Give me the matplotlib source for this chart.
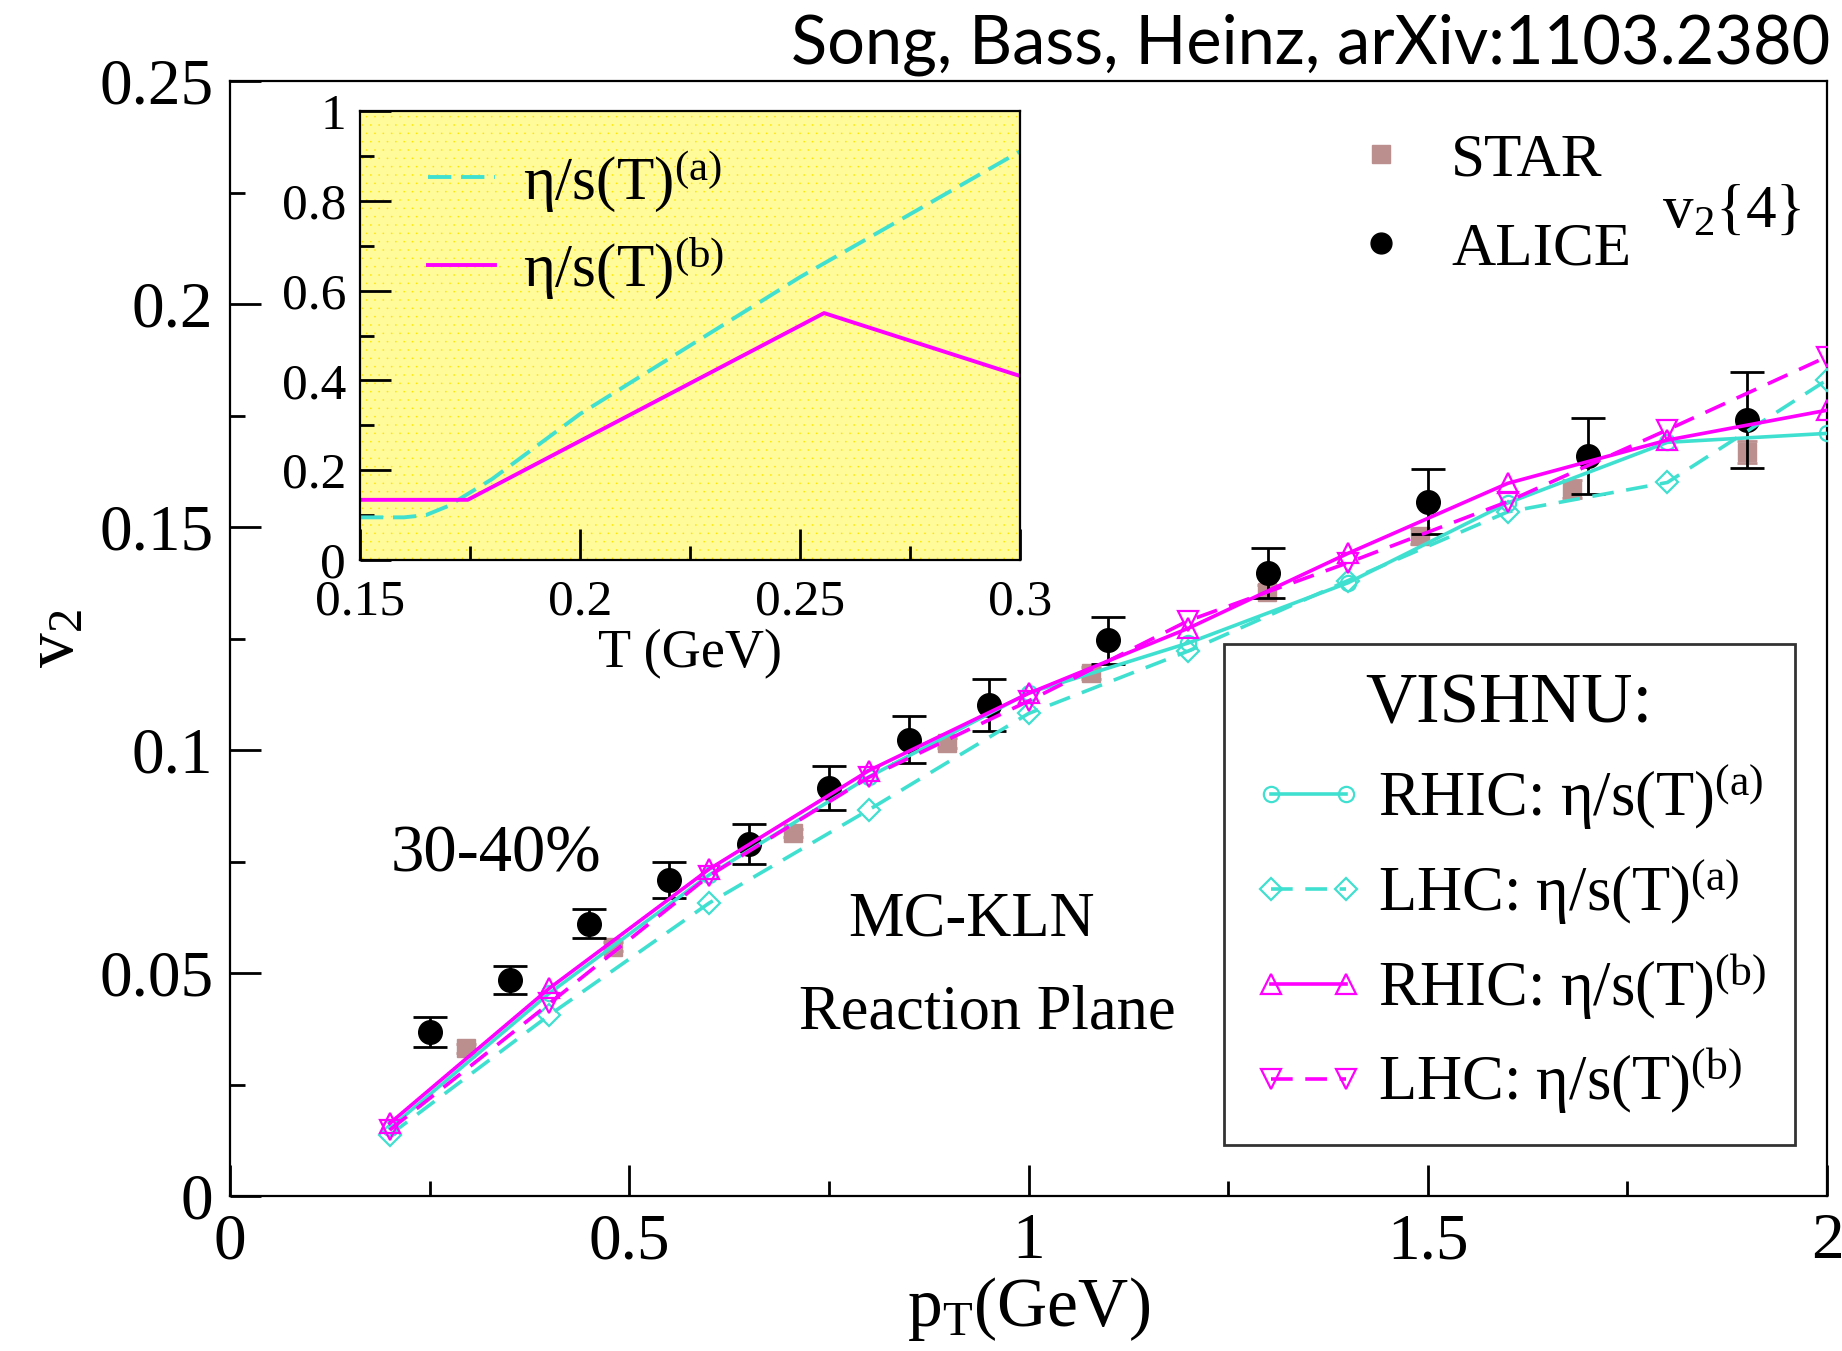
import numpy as np
import matplotlib
matplotlib.use("Agg")
import matplotlib.pyplot as plt
from matplotlib.lines import Line2D
from matplotlib.patches import Rectangle

plt.rcParams['font.family'] = ['Liberation Serif', 'DejaVu Serif']
plt.rcParams['mathtext.fontset'] = 'custom'
plt.rcParams['mathtext.rm'] = 'Liberation Serif'
plt.rcParams['mathtext.it'] = 'Liberation Serif:italic'
plt.rcParams['hatch.linewidth'] = 0.0

TEAL = '#40e0d0'
MAG = '#ff00ff'
STARC = '#bc8f8f'

# --- data -------------------------------------------------------------
alice_pt = [0.25, 0.35, 0.45, 0.55, 0.65, 0.75, 0.85, 0.95, 1.1, 1.3, 1.5, 1.7, 1.9]
alice_v2 = [0.0368, 0.0484, 0.0611, 0.0708, 0.0789, 0.0915, 0.1023, 0.1101, 0.1246,
            0.1398, 0.1557, 0.1659, 0.1740]
alice_err = [0.0034, 0.0032, 0.0033, 0.0040, 0.0045, 0.0050, 0.0053, 0.0058, 0.0052,
             0.0056, 0.0073, 0.0085, 0.0108]

star_pt = [0.295, 0.48, 0.705, 0.898, 1.078, 1.299, 1.49, 1.68, 1.9]
star_v2 = [0.0331, 0.0559, 0.0814, 0.1016, 0.1173, 0.1355, 0.1479, 0.1585, 0.1669]
star_err = [0.001, 0.001, 0.001, 0.0012, 0.0013, 0.0015, 0.0018, 0.002, 0.0025]

pt_th = [0.2, 0.4, 0.6, 0.8, 1.0, 1.2, 1.4, 1.6, 1.8, 2.0]
rhic_a = [0.0152, 0.0455, 0.0720, 0.0940, 0.1128, 0.1240, 0.1375, 0.1554, 0.1690, 0.1710]
lhc_a = [0.0137, 0.0406, 0.0657, 0.0866, 0.1082, 0.1222, 0.1380, 0.1534, 0.1600, 0.1830]
rhic_b = [0.0163, 0.0466, 0.0733, 0.0954, 0.1127, 0.1273, 0.1441, 0.1598, 0.1695, 0.1762]
lhc_b = [0.0148, 0.0432, 0.0718, 0.0939, 0.1110, 0.1290, 0.1420, 0.1557, 0.1718, 0.1882]

# inset: eta/s(T)
T_a = [0.15, 0.16, 0.165, 0.17, 0.175, 0.18, 0.2, 0.25, 0.3]
eta_a = [0.095, 0.095, 0.10, 0.12, 0.15, 0.18, 0.325, 0.63, 0.91]
T_b = [0.15, 0.1745, 0.2555, 0.3]
eta_b = [0.134, 0.134, 0.55, 0.41]

# --- figure -------------------------------------------------------------
fig = plt.figure(figsize=(18.42, 13.51), dpi=100)
ax = fig.add_axes([0.1249, 0.1147, 0.8670, 0.8253])

ax.errorbar(star_pt, star_v2, yerr=star_err, fmt='s', ms=13, color=STARC,
            ecolor=STARC, elinewidth=2, capsize=7, capthick=2, zorder=2)
ax.errorbar(alice_pt, alice_v2, yerr=alice_err, fmt='o', ms=17, color='black',
            ecolor='black', elinewidth=2, capsize=12.5, capthick=2, zorder=3)

lw = 2.6
dash = (0, (6, 3.5))
l1, = ax.plot(pt_th, rhic_a, '-', color=TEAL, lw=lw, marker='o', ms=11, mfc='none',
              mew=1.6, zorder=4)
l2, = ax.plot(pt_th, lhc_a, linestyle=dash, color=TEAL, lw=lw, marker='D', ms=11,
              mfc='none', mew=1.6, zorder=4)
l3, = ax.plot(pt_th, rhic_b, '-', color=MAG, lw=lw, marker='^', ms=15, mfc='none',
              mew=1.6, zorder=5)
l4, = ax.plot(pt_th, lhc_b, linestyle=dash, color=MAG, lw=lw, marker='v', ms=15,
              mfc='none', mew=1.6, zorder=5)

ax.set_xlim(0, 2)
ax.set_ylim(0, 0.25)
ax.set_xticks([0, 0.5, 1, 1.5, 2])
ax.set_xticklabels(['0', '0.5', '1', '1.5', '2'])
ax.set_xticks([0.25, 0.75, 1.25, 1.75], minor=True)
ax.set_yticks([0, 0.05, 0.1, 0.15, 0.2, 0.25])
ax.set_yticklabels(['0', '0.05', '0.1', '0.15', '0.2', '0.25'])
ax.set_yticks([0.025, 0.075, 0.125, 0.175, 0.225], minor=True)
ax.tick_params(which='both', direction='in', top=False, right=False,
               labelsize=47, pad=12, width=2)
ax.tick_params(which='major', length=22)
ax.tick_params(which='minor', length=11)
for s in ax.spines.values():
    s.set_linewidth(1.6)

ax.set_xlabel(r'p$_\mathrm{T}$(GeV)', fontsize=50, labelpad=2)
ax.set_ylabel(r'v$_\mathrm{2}$', fontsize=50, labelpad=8)

# legend of models
leg = ax.legend([l1, l2, l3, l4],
                ['RHIC: η/s' + r'$\mathrm{(T)^{(a)}}$',
                 'LHC: η/s' + r'$\mathrm{(T)^{(a)}}$',
                 'RHIC: η/s' + r'$\mathrm{(T)^{(b)}}$',
                 'LHC: η/s' + r'$\mathrm{(T)^{(b)}}$'],
                title='VISHNU:', title_fontsize=51, fontsize=45,
                loc='upper left', bbox_to_anchor=(0.6224, 0.495),
                borderaxespad=0, numpoints=2, handlelength=1.8,
                handletextpad=0.22, labelspacing=0.4, borderpad=0.45,
                frameon=True, fancybox=False, edgecolor='black')
leg.get_frame().set_linewidth(2)
ax.add_artist(leg)

# legend of data
h_star = Line2D([], [], ls='none', marker='s', ms=13, color=STARC)
h_alice = Line2D([], [], ls='none', marker='o', ms=15, color='black')
leg2 = ax.legend([h_star, h_alice], ['STAR', 'ALICE'], fontsize=44, frameon=False,
                 loc='upper left', bbox_to_anchor=(0.69, 0.976), borderaxespad=0,
                 handlelength=0.8, handletextpad=0.75, labelspacing=0.55)

ax.text(0.8967, 0.8825, r'v$_\mathrm{2}${4}', transform=ax.transAxes, fontsize=44,
        ha='left', va='center')
ax.text(0.1666, 0.3058, '30-40%', transform=ax.transAxes, fontsize=48,
        ha='center', va='center')
ax.text(0.464, 0.2475, 'MC-KLN', transform=ax.transAxes, fontsize=45,
        ha='center', va='center')
ax.text(0.474, 0.164, 'Reaction Plane', transform=ax.transAxes, fontsize=45,
        ha='center', va='center')

fig.text(0.9935, 0.967, 'Song, Bass, Heinz, arXiv:1103.2380', family='Lato',
         fontsize=48, ha='right', va='center')

# --- inset -------------------------------------------------------------
ins = fig.add_axes([0.1954, 0.5855, 0.3583, 0.3323])
ins.set_facecolor('white')
ins.add_patch(Rectangle((0, 0), 1, 1, transform=ins.transAxes, facecolor='#fffa9a',
                        hatch='..', edgecolor='#ffe600', lw=0, zorder=0))
ins.plot(T_a, eta_a, linestyle=(0, (6, 2.5)), color=TEAL, lw=2.8,
         label='η/s' + r'$\mathrm{(T)^{(a)}}$')
ins.plot(T_b, eta_b, '-', color=MAG, lw=2.8, label='η/s' + r'$\mathrm{(T)^{(b)}}$')
ins.set_xlim(0.15, 0.3)
ins.set_ylim(0, 1)
ins.set_xticks([0.15, 0.2, 0.25, 0.3])
ins.set_xticklabels(['0.15', '0.2', '0.25', '0.3'])
ins.set_xticks([0.175, 0.225, 0.275], minor=True)
ins.set_yticks([0, 0.2, 0.4, 0.6, 0.8, 1])
ins.set_yticklabels(['0', '0.2', '0.4', '0.6', '0.8', '1'])
ins.set_yticks([0.1, 0.3, 0.5, 0.7, 0.9], minor=True)
ins.tick_params(which='both', direction='in', top=False, right=False,
                labelsize=37, width=2)
ins.tick_params(axis='x', pad=14)
ins.tick_params(axis='y', pad=10)
ins.tick_params(which='major', length=22)
ins.tick_params(which='minor', length=10)
for s in ins.spines.values():
    s.set_linewidth(1.6)
ins.set_xlabel('T (GeV)', fontsize=39, labelpad=2)
ins.legend(fontsize=44, frameon=False, loc='upper left', bbox_to_anchor=(0.02, 1.04),
           handlelength=1.1, handletextpad=0.45, labelspacing=0.35)

fig.savefig('out.png', dpi=100)
